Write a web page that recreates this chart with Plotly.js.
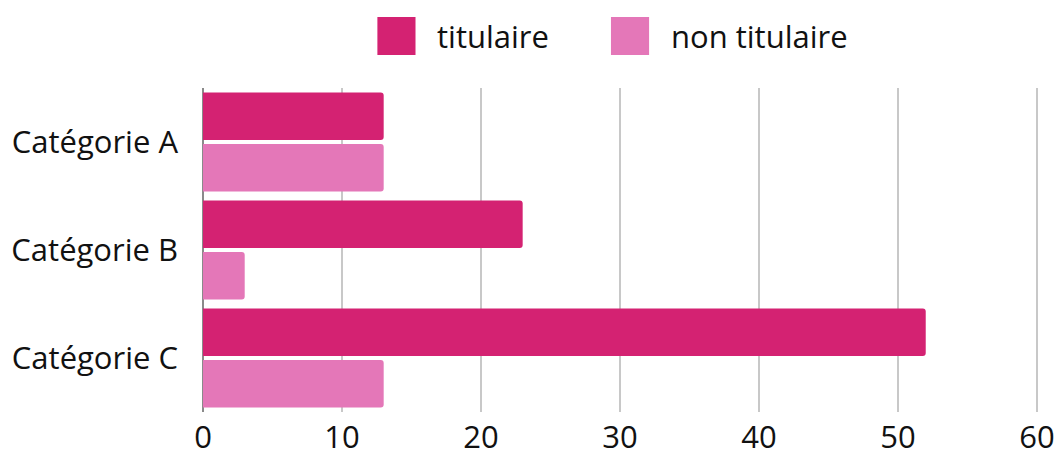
<!DOCTYPE html>
<html>
<head>
<meta charset="utf-8">
<script src="https://cdn.plot.ly/plotly-3.0.1.min.js"></script>
<style>
  html, body { margin: 0; padding: 0; background: #fff; }
  #chart { width: 1059px; height: 451px; }
</style>
</head>
<body>
<div id="chart"></div>
<script>
// Données
const categories = ['Catégorie A', 'Catégorie B', 'Catégorie C'];
const titulaire = [13, 23, 52];
const nonTitulaire = [13, 3, 13];
const seriesNames = ['titulaire', 'non titulaire'];
const seriesColors = ['#d42272', '#e477b8'];
const xTicks = [0, 10, 20, 30, 40, 50, 60];

const fontFamily = '"Open Sans", sans-serif';
const textSize = 31;

const data = [titulaire, nonTitulaire].map((values, i) => ({
    type: 'bar',
    orientation: 'h',
    name: seriesNames[i],
    x: values,
    y: categories,
    marker: {
        color: seriesColors[i],
        cornerradius: 3
    },
    hoverinfo: 'x+name'
}));

// Légende dessinée à la main (carrés plus grands que ceux de Plotly)
const legendSquares = [[0.2086, 0.2542], [0.488, 0.5336]];
const legendText = [0.2775, 0.557];
const shapes = seriesNames.map((name, i) => ({
    type: 'rect',
    xref: 'paper', yref: 'paper',
    x0: legendSquares[i][0], x1: legendSquares[i][1],
    y0: 1.102, y1: 1.219,
    fillcolor: seriesColors[i],
    line: { width: 0 }
}));
const annotations = seriesNames.map((name, i) => ({
    xref: 'paper', yref: 'paper',
    x: legendText[i], y: 1.161,
    xanchor: 'left', yanchor: 'middle',
    text: name,
    showarrow: false,
    font: { size: textSize, color: '#111', family: fontFamily }
}));

const layout = {
    width: 1059,
    height: 451,
    barmode: 'group',
    bargap: 0.046,
    bargroupgap: 0.078,
    showlegend: false,
    margin: { l: 203, r: 20, t: 88, b: 39 },
    paper_bgcolor: '#fff',
    plot_bgcolor: '#fff',
    font: { family: fontFamily, size: textSize, color: '#111' },
    xaxis: {
        range: [0, 60.15],
        tickvals: xTicks,
        ticktext: xTicks.map(String),
        showgrid: true,
        gridcolor: '#c8c8c8',
        gridwidth: 1.5,
        zeroline: true,
        zerolinecolor: '#8a8a8a',
        zerolinewidth: 1.5,
        showline: false,
        ticklabelstandoff: 4,
        tickfont: { size: textSize, color: '#111' },
        fixedrange: true
    },
    yaxis: {
        autorange: 'reversed',
        showgrid: false,
        zeroline: false,
        showline: false,
        ticklabelstandoff: 24,
        tickfont: { size: textSize, color: '#111' },
        fixedrange: true
    },
    shapes: shapes,
    annotations: annotations
};

const config = {
    displayModeBar: false,
    responsive: false
};

Plotly.newPlot('chart', data, layout, config);
</script>
</body>
</html>
